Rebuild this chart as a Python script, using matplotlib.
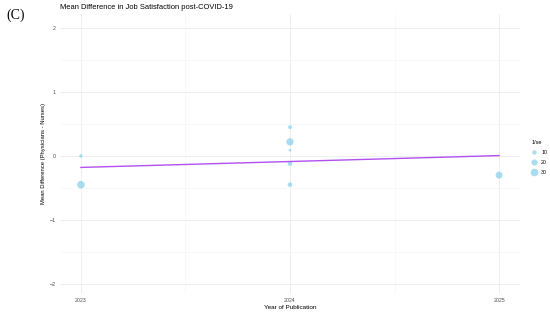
import matplotlib
matplotlib.use("Agg")
import matplotlib.pyplot as plt
from matplotlib.lines import Line2D
import numpy as np

# ---- data ----
years = [2023, 2023, 2024, 2024, 2024, 2024, 2024, 2025]
mean_diff = [0.00, -0.45, 0.45, 0.22, 0.09, -0.12, -0.45, -0.30]
inv_se = [6, 30, 8, 28, 4, 11, 11, 25]
trend_years = [2023, 2025]
trend_values = [-0.18, 0.005]
x_ticks = [2023, 2024, 2025]
x_tick_labels = ["2023", "2024", "2025"]
y_ticks = [-2, -1, 0, 1, 2]
legend_sizes = [10, 20, 30]

W, H = 550, 312
fig = plt.figure(figsize=(W / 100, H / 100), dpi=100)
plt.rcParams['font.family'] = ['Liberation Sans', 'DejaVu Sans']

# panel in pixels: x 60..520, y 14..294
l, r, t, b = 60, 520, 14, 294
ax = fig.add_axes([l / W, 1 - b / H, (r - l) / W, (b - t) / H])

size_k = 1.0
ax.scatter(years, mean_diff, s=[v * size_k for v in inv_se], color='#87CEEB',
           alpha=0.7, edgecolors='none', zorder=3)
ax.plot(trend_years, trend_values, color='#B050F0', lw=1.0, zorder=4)

ax.set_xlim(2022.9, 2025.1)
ax.set_ylim(-2.16, 2.22)
ax.set_xticks(x_ticks)
ax.set_xticklabels(x_tick_labels)
ax.set_yticks(y_ticks)
ax.set_xticks([2023.5, 2024.5], minor=True)
ax.set_yticks([-1.5, -0.5, 0.5, 1.5], minor=True)
ax.grid(True, which='major', color='#EBEBEB', lw=0.6)
ax.grid(True, which='minor', color='#F3F3F3', lw=0.4)
ax.set_axisbelow(True)
for s in ax.spines.values():
    s.set_visible(False)
ax.tick_params(which='both', length=0, labelsize=3.8, labelcolor='#4D4D4D', pad=3)

ax.set_xlabel("Year of Publication", fontsize=4.6, labelpad=1.5, color='black')
ax.set_ylabel("Mean Difference (Physicians - Nurses)", fontsize=4.2, labelpad=3, color='black')

fig.text(60 / W, 1 - 7.5 / H, "Mean Difference in Job Satisfaction post-COVID-19",
         fontsize=5.4, ha='left', va='center')
fig.text(6 / W, 1 - 15 / H, "(C)", fontsize=10, family='Liberation Serif',
         ha='left', va='center')

handles = [Line2D([], [], marker='o', ls='none', color='#87CEEB', alpha=0.7,
                  markeredgewidth=0, markersize=np.sqrt(v * size_k))
           for v in legend_sizes]
leg = fig.legend(handles, [str(v) for v in legend_sizes], title="1/se",
                 loc='upper left', bbox_to_anchor=(529 / W, 1 - 137 / H),
                 frameon=False, fontsize=3.8, title_fontsize=4.0,
                 handlelength=0.9, handletextpad=0.9, labelspacing=0.95,
                 borderpad=0, alignment='left')

fig.savefig("out.png", dpi=100)
